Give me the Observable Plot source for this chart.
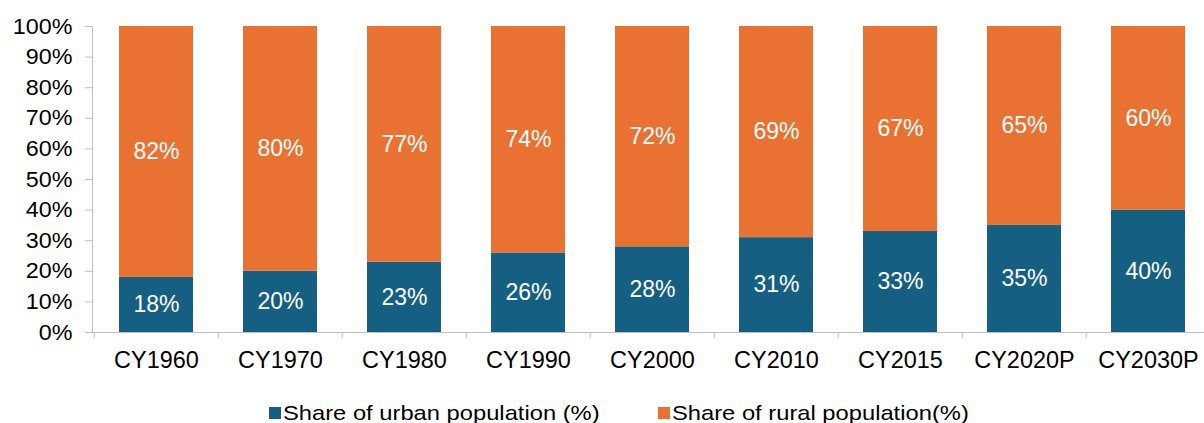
<!DOCTYPE html>
<html><head><meta charset="utf-8">
<script src="https://cdn.jsdelivr.net/npm/d3@7"></script>
<script src="https://cdn.jsdelivr.net/npm/@observablehq/plot@0.6"></script>
<style>
body{margin:0;background:#fff;font-family:"Liberation Sans",Arial,sans-serif;}
#wrap{position:relative;width:1204px;height:423px;overflow:hidden;}
#legend{position:absolute;left:0;top:400px;width:1204px;height:25px;}
.item{position:absolute;top:0;height:25px;display:flex;align-items:center;}
.sw{width:12px;height:12px;margin-right:2px;}
.lt{font-size:21px;color:#000;display:inline-block;transform:scaleX(1.13);transform-origin:left center;white-space:nowrap;}
</style></head><body><div id="wrap"><div id="chart"></div><div id="legend"></div></div>
<script>
const years = ["CY1960","CY1970","CY1980","CY1990","CY2000","CY2010","CY2015","CY2020P","CY2030P"];
const urban = [18,20,23,26,28,31,33,35,40];
const rural = [82,80,77,74,72,69,67,65,60];
const seriesNames = ["Share of urban population (%)","Share of rural population(%)"];
const colors = ["#156082","#E97132"];
const yTicks = [0,10,20,30,40,50,60,70,80,90,100];

const rows = [];
years.forEach((y,i)=>{
  rows.push({year:y, series:seriesNames[0], value:urban[i], mid:urban[i]/2});
  rows.push({year:y, series:seriesNames[1], value:rural[i], mid:urban[i]+rural[i]/2});
});

const W = 1204, H = 390, ML = 92, MR = -8, MT = 26, MB = 58;
const step = (W - MR - ML) / years.length;

const chart = Plot.plot({
  width: W, height: H,
  marginLeft: ML, marginRight: MR, marginTop: MT, marginBottom: MB,
  style: {fontFamily: '"Liberation Sans", Arial, sans-serif', background: "#fff", overflow: "visible"},
  x: {domain: years, paddingInner: 0.4, paddingOuter: 0.2, axis: null},
  y: {domain: [0, 100], axis: null},
  color: {domain: seriesNames, range: colors},
  marks: [
    Plot.barY(rows, Plot.stackY({x: "year", y: "value", fill: "series", order: seriesNames})),
    Plot.frame({anchor: "left", stroke: "#BFBFBF"}),
    Plot.frame({anchor: "bottom", stroke: "#BFBFBF"}),
    Plot.ruleX(years, {x: d => d, dx: -step / 2, y1: 0, y2: -2, stroke: "#BFBFBF"}),
    Plot.axisY(yTicks, {tickFormat: d => d + "%", tickSize: 7, tickPadding: 13, stroke: "#BFBFBF", fill: "#000", fontSize: 22, label: null}),
    Plot.axisX({tickSize: 0, tickPadding: 19, fill: "#000", fontSize: 23, label: null}),
    Plot.text(rows, {x: "year", y: "mid", text: d => d.value + "%", fill: "#fff", fontSize: 23})
  ]
});
document.getElementById("chart").appendChild(chart);

function stretch(nodes, f){
  nodes.forEach(t => {
    const L = t.getComputedTextLength();
    t.setAttribute("textLength", L * f);
    t.setAttribute("lengthAdjust", "spacingAndGlyphs");
  });
}
stretch(chart.querySelectorAll('g[aria-label="y-axis tick label"] text'), 1.06);
stretch(chart.querySelectorAll('g[aria-label="x-axis tick label"] text'), 1.02);

const legend = document.getElementById("legend");
const lx = [269, 658];
seriesNames.forEach((s,i)=>{
  const it = document.createElement("div");
  it.className = "item"; it.style.left = lx[i] + "px";
  it.innerHTML = `<span class="sw" style="background:${colors[i]}"></span><span class="lt">${s}</span>`;
  legend.appendChild(it);
});
</script></body></html>
